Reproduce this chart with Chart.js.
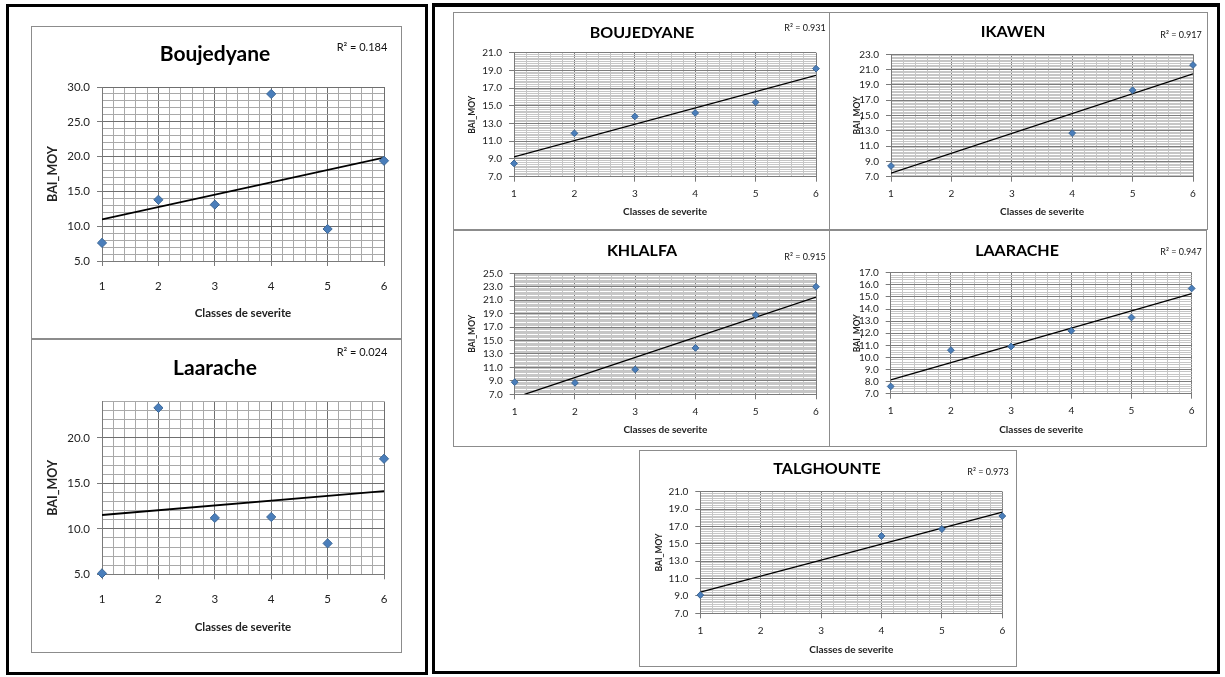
<!DOCTYPE html>
<html>
<head>
<meta charset="utf-8">
<title>BAI_MOY par classe de sévérité</title>
<script src="https://cdn.jsdelivr.net/npm/chart.js@4.4.1/dist/chart.umd.min.js"></script>
<style>
  html, body { margin: 0; padding: 0; background: #fff; }
  body { width: 1225px; height: 677px; position: relative; overflow: hidden; font-family: Lato, sans-serif; }
  .outer { position: absolute; border: 3px solid #000; box-sizing: border-box; }
  .frame { position: absolute; border: 1.5px solid #8c8c8c; box-sizing: border-box; background: #fff; }
  canvas { position: absolute; }
</style>
</head>
<body>
<div class="outer" style="left:6px;top:4px;width:422px;height:671px;"></div>
<div class="outer" style="left:432px;top:3px;width:788px;height:671px;border-top-width:4px;"></div>
<script>
// ---- data ----
const severityClasses = [1, 2, 3, 4, 5, 6];
const severityClassesPartial = [1, 4, 5, 6];
const xTickLabels = ['1', '2', '3', '4', '5', '6'];

const baiBoujedyaneSite = [7.6, 13.8, 13.1, 29.0, 9.6, 19.4];
const baiLaaracheSite   = [5.1, 23.3, 11.2, 11.3, 8.4, 17.7];
const baiBoujedyane     = [8.5, 11.9, 13.8, 14.2, 15.4, 19.2];
const baiIkawen         = [8.4, 12.7, 18.3, 21.6];
const baiKhlalfa        = [8.8, 8.7, 10.7, 13.9, 18.8, 23.0];
const baiLaarache       = [7.6, 10.6, 10.9, 12.2, 13.3, 15.7];
const baiTalghounte     = [9.1, 15.9, 16.7, 18.2];

const panelTitles = ['Boujedyane', 'Laarache', 'BOUJEDYANE', 'IKAWEN', 'KHLALFA', 'LAARACHE', 'TALGHOUNTE'];
const r2Labels    = ['0.184', '0.024', '0.931', '0.917', '0.915', '0.947', '0.973'];
const yAxisMins   = [5, 5, 7, 7, 7, 7, 7];
const yAxisMaxes  = [30, 24, 21, 23, 25, 17, 21];
const yMajorSteps = [5, 5, 2, 2, 2, 1, 2];

const axisTitleX = 'Classes de severite';
const axisTitleY = 'BAI_MOY';

// ---- styles: large panels (left column) and small panels (right block) ----
const FONT = 'Lato, "Liberation Sans", sans-serif';
const styleLarge = {
  titleSize: 21, r2Size: 11, xTitleSize: 11.5, yTitleSize: 12.5, tickSize: 11.5,
  markerR: 4.6, trendW: 1.8, minorY: 1, minorX: 0.2,
  gridMinor: '#a9a9a9', gridMajor: '#6f6f6f', xPad: 13, yPad: 7
};
const styleSmall = {
  titleSize: 16, r2Size: 9, xTitleSize: 10, yTitleSize: 8.5, tickSize: 10,
  markerR: 3.4, trendW: 1.3, minorY: 0.2, minorX: 0.2,
  gridMinor: '#c6c6c6', gridMajor: '#7c7c7c', xPad: 6, yPad: 7
};

// panel geometry: frame [x, y, w, h], plot area [left, top, right, bottom], text anchors
const panels = [
  { i: 0, xs: severityClasses, ys: baiBoujedyaneSite, st: styleLarge,
    frame: [31, 26, 371, 313], plot: [102, 87, 384, 261], titlePos: [215, 54], r2Pos: [362, 47], xTitleY: 313, yTitleX: 53 },
  { i: 1, xs: severityClasses, ys: baiLaaracheSite, st: styleLarge,
    frame: [31, 339, 371, 314], plot: [102, 401.5, 384, 574.3], titlePos: [215, 368], r2Pos: [362, 352], xTitleY: 627, yTitleX: 53 },
  { i: 2, xs: severityClasses, ys: baiBoujedyane, st: styleSmall,
    frame: [453, 12, 377, 218], plot: [514, 52.7, 816, 176.7], titlePos: [642, 33], r2Pos: [805, 28], xTitleY: 212, yTitleX: 472 },
  { i: 3, xs: severityClassesPartial, ys: baiIkawen, st: styleSmall,
    frame: [829, 12, 379, 218], plot: [891, 54.3, 1193, 176.7], titlePos: [1013, 32], r2Pos: [1181, 35], xTitleY: 212, yTitleX: 857 },
  { i: 4, xs: severityClasses, ys: baiKhlalfa, st: styleSmall,
    frame: [453, 230, 377, 217], plot: [514.7, 273.3, 816, 394.3], titlePos: [642, 251], r2Pos: [805, 257], xTitleY: 430, yTitleX: 472 },
  { i: 5, xs: severityClasses, ys: baiLaarache, st: styleSmall,
    frame: [829, 230, 378, 217], plot: [890.7, 272.7, 1191.7, 393.7], titlePos: [1017, 251], r2Pos: [1181, 252], xTitleY: 430, yTitleX: 857 },
  { i: 6, xs: severityClassesPartial, ys: baiTalghounte, st: styleSmall,
    frame: [639, 450, 378, 217], plot: [700.3, 491.7, 1002.3, 613.3], titlePos: [827, 469], r2Pos: [988, 472], xTitleY: 650, yTitleX: 659 }
];

// ---- helpers ----
// true when v lies on the grid base, base + step, base + 2*step, ...
function onStep(v, base, step) {
  const q = (v - base) / step;
  return Math.abs(q - Math.round(q)) < 1e-6;
}

// least-squares linear trend of a series
function linearFit(xs, ys) {
  const n = xs.length;
  const mx = xs.reduce((a, b) => a + b, 0) / n;
  const my = ys.reduce((a, b) => a + b, 0) / n;
  let sxy = 0, sxx = 0;
  for (let k = 0; k < n; k++) {
    sxy += (xs[k] - mx) * (ys[k] - my);
    sxx += (xs[k] - mx) * (xs[k] - mx);
  }
  const slope = sxy / sxx;
  return { slope, intercept: my - slope * mx };
}

// trend segment over the x range of the series, trimmed to the y axis range
function trendSegment(fit, x0, x1, yMin, yMax) {
  const yAt = x => fit.intercept + fit.slope * x;
  const xAt = y => (y - fit.intercept) / fit.slope;
  let a = x0, b = x1;
  if (yAt(a) < yMin) a = xAt(yMin);
  if (yAt(a) > yMax) a = xAt(yMax);
  if (yAt(b) > yMax) b = xAt(yMax);
  if (yAt(b) < yMin) b = xAt(yMin);
  return [{ x: a, y: yAt(a) }, { x: b, y: yAt(b) }];
}

// titles, R² label and axis titles
const panelText = {
  id: 'panelText',
  afterDraw(chart, args, o) {
    const c = chart.ctx;
    const area = chart.chartArea;
    c.save();
    c.fillStyle = '#000';
    c.textAlign = 'center';
    c.textBaseline = 'middle';
    c.font = `bold ${o.titleSize}px ${FONT}`;
    c.fillText(o.title, o.titleX, o.titleY);
    c.fillStyle = '#111';
    c.font = `${o.r2Size}px ${FONT}`;
    c.fillText('R² = ' + o.r2, o.r2X, o.r2Y);
    c.fillStyle = '#222';
    c.font = `bold ${o.xTitleSize}px ${FONT}`;
    c.fillText(axisTitleX, (area.left + area.right) / 2, o.xTitleY);
    c.translate(o.yTitleX, (area.top + area.bottom) / 2);
    c.rotate(-Math.PI / 2);
    c.font = `bold ${o.yTitleSize}px ${FONT}`;
    c.fillText(axisTitleY, 0, 0);
    c.restore();
  }
};

function buildPanel(p) {
  const st = p.st;
  const [fx, fy, fw, fh] = p.frame;
  const [pl, pt, pr, pb] = p.plot;
  const yMin = yAxisMins[p.i], yMax = yAxisMaxes[p.i], yMajor = yMajorSteps[p.i];
  const xMajorAt = v => onStep(v, 1, 1);
  const yMajorAt = v => onStep(v, yMin, yMajor);

  const frame = document.createElement('div');
  frame.className = 'frame';
  frame.style.cssText = `left:${fx}px;top:${fy}px;width:${fw}px;height:${fh}px;`;
  document.body.appendChild(frame);

  const canvas = document.createElement('canvas');
  canvas.width = fw;
  canvas.height = fh;
  canvas.style.cssText = `left:${fx}px;top:${fy}px;width:${fw}px;height:${fh}px;`;
  document.body.appendChild(canvas);

  const fit = linearFit(p.xs, p.ys);
  const trend = trendSegment(fit, p.xs[0], p.xs[p.xs.length - 1], yMin, yMax);

  new Chart(canvas, {
    type: 'scatter',
    data: {
      datasets: [
        {
          data: p.xs.map((x, k) => ({ x, y: p.ys[k] })),
          pointStyle: 'rectRot',
          pointRadius: st.markerR,
          backgroundColor: '#4a7ebb',
          borderColor: '#3c6796',
          borderWidth: 1,
          clip: false
        },
        {
          type: 'line',
          data: trend,
          borderColor: '#000',
          borderWidth: st.trendW,
          pointRadius: 0,
          fill: false,
          clip: 0
        }
      ]
    },
    options: {
      responsive: false,
      animation: false,
      events: [],
      layout: { padding: { left: 0, top: pt - fy, right: fx + fw - pr, bottom: 0 } },
      plugins: {
        legend: { display: false },
        tooltip: { enabled: false },
        panelText: {
          title: panelTitles[p.i], r2: r2Labels[p.i],
          titleSize: st.titleSize, r2Size: st.r2Size, xTitleSize: st.xTitleSize, yTitleSize: st.yTitleSize,
          titleX: p.titlePos[0] - fx, titleY: p.titlePos[1] - fy,
          r2X: p.r2Pos[0] - fx, r2Y: p.r2Pos[1] - fy,
          xTitleY: p.xTitleY - fy, yTitleX: p.yTitleX - fx
        }
      },
      scales: {
        x: {
          type: 'linear',
          min: 1,
          max: 6,
          afterFit: sc => { sc.height = fy + fh - pb; },
          ticks: {
            stepSize: st.minorX,
            autoSkip: false,
            maxTicksLimit: 1000,
            maxRotation: 0,
            minRotation: 0,
            padding: st.xPad,
            color: '#222',
            font: { family: FONT, size: st.tickSize },
            callback: v => xMajorAt(v) ? xTickLabels[Math.round(v) - 1] : ''
          },
          grid: {
            color: ctx => (ctx.tick && xMajorAt(ctx.tick.value)) ? st.gridMajor : st.gridMinor,
            lineWidth: 1,
            tickLength: 5,
            tickColor: ctx => (ctx.tick && xMajorAt(ctx.tick.value)) ? '#7a7a7a' : 'rgba(0,0,0,0)'
          },
          border: { color: '#7a7a7a', width: 1 }
        },
        y: {
          type: 'linear',
          min: yMin,
          max: yMax,
          afterFit: sc => { sc.width = pl - fx; },
          ticks: {
            stepSize: st.minorY,
            autoSkip: false,
            maxTicksLimit: 1000,
            padding: st.yPad,
            color: '#222',
            font: { family: FONT, size: st.tickSize },
            callback: v => yMajorAt(v) ? Number(v).toFixed(1) : ''
          },
          grid: {
            color: ctx => (ctx.tick && yMajorAt(ctx.tick.value)) ? st.gridMajor : st.gridMinor,
            lineWidth: 1,
            tickLength: 5,
            tickColor: ctx => (ctx.tick && yMajorAt(ctx.tick.value)) ? '#7a7a7a' : 'rgba(0,0,0,0)'
          },
          border: { color: '#7a7a7a', width: 1 }
        }
      }
    },
    plugins: [panelText]
  });
}

const fontsReady = document.fonts && document.fonts.load
  ? Promise.all([document.fonts.load(`bold 16px Lato`), document.fonts.load(`11px Lato`)]).catch(() => null)
  : Promise.resolve();
fontsReady.then(() => panels.forEach(buildPanel));
</script>
</body>
</html>
